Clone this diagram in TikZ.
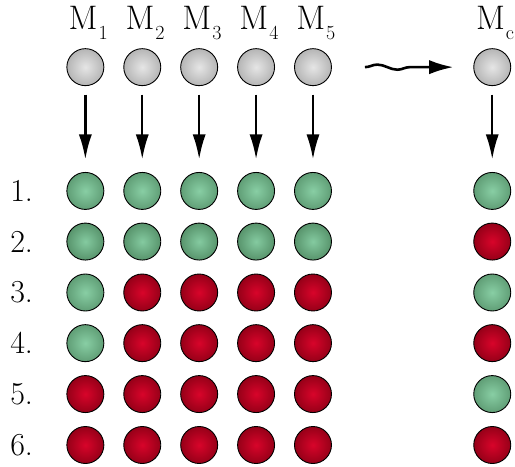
\documentclass[tikz,border=0pt]{standalone}
\usepackage{fontspec}
\usepackage{xcolor}
\usepackage{tikz}
\usetikzlibrary{arrows.meta,positioning,decorations.pathmorphing}
\definecolor{greenin}{RGB}{136,206,164}
\definecolor{greenout}{RGB}{96,158,118}
\definecolor{greendkin}{RGB}{132,202,160}
\definecolor{greendkout}{RGB}{88,148,108}
\definecolor{redin}{RGB}{216,4,42}
\definecolor{redout}{RGB}{150,0,24}
\newcommand{\msub}[1]{\kern1pt\raisebox{-10pt}{\fontsize{20}{24}\selectfont #1}}
\tikzset{
  ball/.style={circle, draw=black, line width=0.9pt, minimum size=1.3cm, inner sep=0pt, shading=radial},
  greyball/.style={ball, inner color=gray!20, outer color=gray!58},
  greenball/.style={ball, inner color=greenin, outer color=greenout},
  greendk/.style={ball, inner color=greendkin, outer color=greendkout},
  redball/.style={ball, inner color=redin, outer color=redout},
  bignum/.style={font=\fontsize{32}{38}\selectfont},
  bigm/.style={font=\fontsize{34}{40}\selectfont, anchor=base},
  drop/.style={line width=2.4pt, -{Latex[length=0.88cm,width=0.46cm]}, shorten <=0.3cm, shorten >=0.44cm},
  wave/.style={line width=2.6pt, decorate, decoration={snake, amplitude=0.09cm, segment length=1.4cm, post length=0.85cm}, -{Latex[length=0.85cm,width=0.5cm]}}
}

\begin{document}
\begin{tikzpicture}
\useasboundingbox (0,0) rectangle (18.1,16.41);
% machines
\node[greyball] (m1) at (3,14.05) {};
\node[greyball] (m2) at (5,14.05) {};
\node[greyball] (m3) at (7,14.05) {};
\node[greyball] (m4) at (9,14.05) {};
\node[greyball] (m5) at (11,14.05) {};
\node[greyball] (mc) at (17.3,14.05) {};
\node[bigm] (t1) at (3.1,15.38) {M\msub{1}};
\node[bigm] (t2) at (5.1,15.38) {M\msub{2}};
\node[bigm] (t3) at (7.1,15.38) {M\msub{3}};
\node[bigm] (t4) at (9.1,15.38) {M\msub{4}};
\node[bigm] (t5) at (11.1,15.38) {M\msub{5}};
\node[bigm] (tc) at (17.4,15.38) {M\msub{c}};
% rows
\node[bignum] (n1) at (0.76,9.70) {1.};
\node[greenball] (a1) at (3,9.70) {}; \node[greenball] (a2) at (5,9.70) {}; \node[greenball] (a3) at (7,9.70) {};
\node[greenball] (a4) at (9,9.70) {}; \node[greenball] (a5) at (11,9.70) {}; \node[greenball] (ac) at (17.3,9.70) {};
\node[bignum] (n2) at (0.76,7.92) {2.};
\node[greendk] (b1) at (3,7.92) {}; \node[greendk] (b2) at (5,7.92) {}; \node[greendk] (b3) at (7,7.92) {};
\node[greendk] (b4) at (9,7.92) {}; \node[greendk] (b5) at (11,7.92) {}; \node[redball] (bc) at (17.3,7.92) {};
\node[bignum] (n3) at (0.76,6.13) {3.};
\node[greenball] (c1) at (3,6.13) {}; \node[redball] (c2) at (5,6.13) {}; \node[redball] (c3) at (7,6.13) {};
\node[redball] (c4) at (9,6.13) {}; \node[redball] (c5) at (11,6.13) {}; \node[greenball] (cc) at (17.3,6.13) {};
\node[bignum] (n4) at (0.76,4.35) {4.};
\node[greenball] (d1) at (3,4.35) {}; \node[redball] (d2) at (5,4.35) {}; \node[redball] (d3) at (7,4.35) {};
\node[redball] (d4) at (9,4.35) {}; \node[redball] (d5) at (11,4.35) {}; \node[redball] (dc) at (17.3,4.35) {};
\node[bignum] (n5) at (0.76,2.56) {5.};
\node[redball] (e1) at (3,2.56) {}; \node[redball] (e2) at (5,2.56) {}; \node[redball] (e3) at (7,2.56) {};
\node[redball] (e4) at (9,2.56) {}; \node[redball] (e5) at (11,2.56) {}; \node[greenball] (ec) at (17.3,2.56) {};
\node[bignum] (n6) at (0.76,0.77) {6.};
\node[redball] (f1) at (3,0.77) {}; \node[redball] (f2) at (5,0.77) {}; \node[redball] (f3) at (7,0.77) {};
\node[redball] (f4) at (9,0.77) {}; \node[redball] (f5) at (11,0.77) {}; \node[redball] (fc) at (17.3,0.77) {};
% arrows
\draw[drop] (m1) -- (a1);
\draw[drop] (m2) -- (a2);
\draw[drop] (m3) -- (a3);
\draw[drop] (m4) -- (a4);
\draw[drop] (m5) -- (a5);
\draw[drop] (mc) -- (ac);
\coordinate[right=1.16cm of m5] (ws);
\coordinate[left=0.7cm of mc] (we);
\draw[wave] (ws) -- (we);
\end{tikzpicture}
\end{document}
